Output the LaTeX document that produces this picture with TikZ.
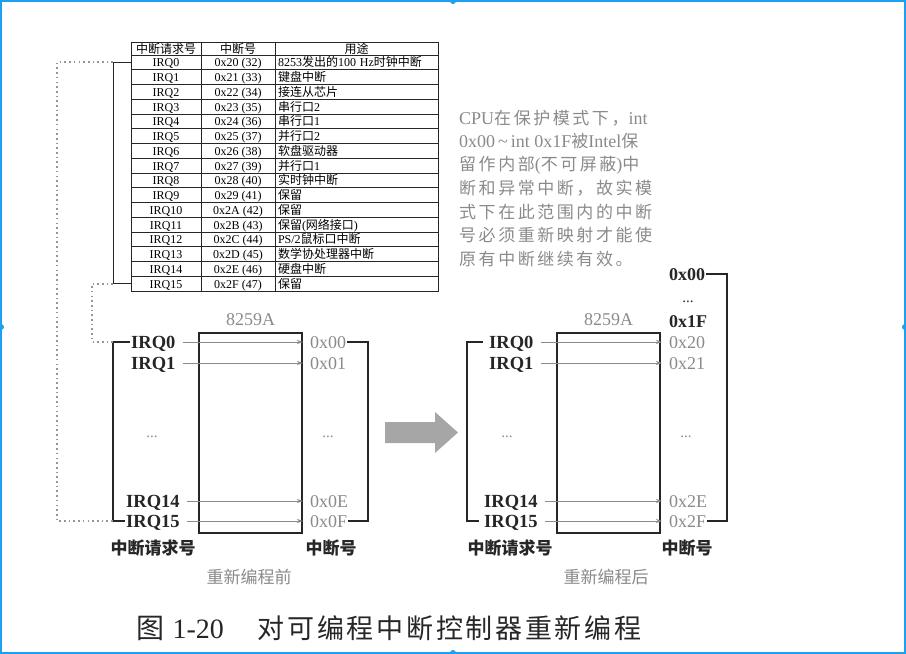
\documentclass[tikz,border=0pt]{standalone}
\usepackage{fontspec}
\setmainfont{Liberation Serif}
\newfontfamily\cjk{Noto Sans CJK SC}
\newfontfamily\cjkwide[LetterSpace=15]{Noto Sans CJK SC}
\newfontfamily\cjkcap[LetterSpace=10]{Noto Sans CJK SC}
\newcommand\zh[1]{{\cjk #1}}
\newcommand\zhw[1]{{\cjkwide\fontsize{17}{20}\selectfont #1}}
\usetikzlibrary{arrows.meta,positioning}
\definecolor{inkgray}{HTML}{8A8A8A}
\definecolor{linegray}{HTML}{262626}
\definecolor{framecol}{HTML}{1EA0F0}
\tikzstyle{cell}=[draw=linegray, line width=0.8pt, minimum height=14.75pt, inner sep=0pt, text height=10pt, text depth=1pt, font=\fontsize{12}{13}\selectfont]
\tikzstyle{irqcell}=[cell, minimum width=70pt]
\tikzstyle{veccell}=[cell, minimum width=74pt]
\tikzstyle{usecell}=[cell, text width=157pt, inner xsep=3pt, align=left]
\tikzstyle{headcell}=[minimum height=13pt, font=\cjk\fontsize{12}{13}\selectfont]
\tikzstyle{chip}=[draw=linegray, line width=1.3pt, minimum width=103pt, minimum height=200pt]
\tikzstyle{chiplabel}=[text=inkgray, font=\fontsize{18}{20}\selectfont, inner sep=1pt]
\tikzstyle{irq}=[anchor=west, inner sep=1pt, text height=12pt, text depth=0pt, text=linegray, font=\bfseries\fontsize{18.5}{20}\selectfont]
\tikzstyle{vec}=[anchor=west, inner sep=1pt, text height=12pt, text depth=0pt, text=inkgray, font=\fontsize{18}{20}\selectfont]
\tikzstyle{vecdark}=[vec, text=linegray, font=\bfseries\fontsize{18}{20}\selectfont]
\tikzstyle{ellip}=[text=inkgray, font=\fontsize{15}{16}\selectfont, inner sep=1pt]
\tikzstyle{zhlabel}=[text=linegray, font=\cjk\bfseries\fontsize{17}{20}\selectfont]
\tikzstyle{zhnote}=[text=inkgray, font=\cjk\fontsize{17}{20}\selectfont]
\tikzstyle{note}=[anchor=west, inner sep=0pt, text=inkgray, font=\fontsize{18}{20}\selectfont]
\tikzstyle{wire}=[draw=linegray, line width=1.3pt]
\tikzstyle{flow}=[draw=inkgray, line width=0.8pt, shorten <=6pt, shorten >=6pt, -{Stealth[length=6pt,width=4pt]}]
\tikzstyle{dots}=[draw=inkgray!90, line width=1.8pt, dash pattern=on 1.6pt off 3.1pt]

\begin{document}
\begin{tikzpicture}[x=1pt, y=-1pt]
\useasboundingbox (0,0) rectangle (906,654);
% Frame
    \draw[framecol, line width=2pt] (1,1) rectangle (905,653);
    \fill[framecol] (453,1) circle(3);
    \fill[framecol] (453,653) circle(3);
    \fill[framecol] (1,327) circle(3);
    \fill[framecol] (905,327) circle(3);
% Table
    \node[irqcell, headcell] (hirq) at (166,48.5) {中断请求号};
    \node[veccell, headcell] (hvec) at (238,48.5) {中断号};
    \node[usecell, headcell, align=center] (huse) at (356.5,48.5) {用途};
    \node[irqcell] (t0) at (166,62.375) {IRQ0};
    \node[veccell] (v0) at (238,62.375) {0x20 (32)};
    \node[usecell] (u0) at (356.5,62.375) {8253\zh{发出的}100 Hz\zh{时钟中断}};
    \node[irqcell] (t1) at (166,77.125) {IRQ1};
    \node[veccell] (v1) at (238,77.125) {0x21 (33)};
    \node[usecell] (u1) at (356.5,77.125) {\zh{键盘中断}};
    \node[irqcell] (t2) at (166,91.875) {IRQ2};
    \node[veccell] (v2) at (238,91.875) {0x22 (34)};
    \node[usecell] (u2) at (356.5,91.875) {\zh{接连从芯片}};
    \node[irqcell] (t3) at (166,106.625) {IRQ3};
    \node[veccell] (v3) at (238,106.625) {0x23 (35)};
    \node[usecell] (u3) at (356.5,106.625) {\zh{串行口}2};
    \node[irqcell] (t4) at (166,121.375) {IRQ4};
    \node[veccell] (v4) at (238,121.375) {0x24 (36)};
    \node[usecell] (u4) at (356.5,121.375) {\zh{串行口}1};
    \node[irqcell] (t5) at (166,136.125) {IRQ5};
    \node[veccell] (v5) at (238,136.125) {0x25 (37)};
    \node[usecell] (u5) at (356.5,136.125) {\zh{并行口}2};
    \node[irqcell] (t6) at (166,150.875) {IRQ6};
    \node[veccell] (v6) at (238,150.875) {0x26 (38)};
    \node[usecell] (u6) at (356.5,150.875) {\zh{软盘驱动器}};
    \node[irqcell] (t7) at (166,165.625) {IRQ7};
    \node[veccell] (v7) at (238,165.625) {0x27 (39)};
    \node[usecell] (u7) at (356.5,165.625) {\zh{并行口}1};
    \node[irqcell] (t8) at (166,180.375) {IRQ8};
    \node[veccell] (v8) at (238,180.375) {0x28 (40)};
    \node[usecell] (u8) at (356.5,180.375) {\zh{实时钟中断}};
    \node[irqcell] (t9) at (166,195.125) {IRQ9};
    \node[veccell] (v9) at (238,195.125) {0x29 (41)};
    \node[usecell] (u9) at (356.5,195.125) {\zh{保留}};
    \node[irqcell] (t10) at (166,209.875) {IRQ10};
    \node[veccell] (v10) at (238,209.875) {0x2A (42)};
    \node[usecell] (u10) at (356.5,209.875) {\zh{保留}};
    \node[irqcell] (t11) at (166,224.625) {IRQ11};
    \node[veccell] (v11) at (238,224.625) {0x2B (43)};
    \node[usecell] (u11) at (356.5,224.625) {\zh{保留}(\zh{网络接口})};
    \node[irqcell] (t12) at (166,239.375) {IRQ12};
    \node[veccell] (v12) at (238,239.375) {0x2C (44)};
    \node[usecell] (u12) at (356.5,239.375) {PS/2\zh{鼠标口中断}};
    \node[irqcell] (t13) at (166,254.125) {IRQ13};
    \node[veccell] (v13) at (238,254.125) {0x2D (45)};
    \node[usecell] (u13) at (356.5,254.125) {\zh{数学协处理器中断}};
    \node[irqcell] (t14) at (166,268.875) {IRQ14};
    \node[veccell] (v14) at (238,268.875) {0x2E (46)};
    \node[usecell] (u14) at (356.5,268.875) {\zh{硬盘中断}};
    \node[irqcell] (t15) at (166,283.625) {IRQ15};
    \node[veccell] (v15) at (238,283.625) {0x2F (47)};
    \node[usecell] (u15) at (356.5,283.625) {\zh{保留}};
% Note
    \node[note] (n1) at (459,118) {CPU\zhw{在保护模式下，}int};
    \node[note] (n2) at (459,141.5) {0x00\,\textasciitilde\,int 0x1F\zhw{被}Intel\zhw{保}};
    \node[note] (n3) at (459,165) {\zhw{留作内部}(\zhw{不可屏蔽})\zhw{中}};
    \node[note] (n4) at (459,188.5) {\zhw{断和异常中断，故实模}};
    \node[note] (n5) at (459,212) {\zhw{式下在此范围内的中断}};
    \node[note] (n6) at (459,235.5) {\zhw{号必须重新映射才能使}};
    \node[note] (n7) at (459,259) {\zhw{原有中断继续有效。}};
% Before remapping
    \node[chip] (lchip) at (250.5,433) {};
    \node[chiplabel, above=5pt of lchip] (lname) {8259A};
    \node[irq] (lirq0) at (130,342) {IRQ0};
    \node[irq] (lirq1) at (130,363) {IRQ1};
    \node[irq] (lirq14) at (125,501) {IRQ14};
    \node[irq] (lirq15) at (125,521) {IRQ15};
    \node[vec] (lhex0) at (309,342) {0x00};
    \node[vec] (lhex1) at (309,363) {0x01};
    \node[vec] (lhex14) at (309,501) {0x0E};
    \node[vec] (lhex15) at (309,521) {0x0F};
    \node[ellip] (ldots) at (152,437) {...};
    \node[ellip] (lvdots) at (328,437) {...};
    \node[zhlabel] (lreq) at (153,548) {中断请求号};
    \node[zhlabel] (lvec) at (331,548) {中断号};
    \node[zhnote] (lcap) at (249,577) {重新编程前};
    \coordinate (lbrk0) at (113,342);
    \coordinate (lbrk15) at (113,521);
    \coordinate (lout0) at (368,342);
    \draw[wire] (lirq0.west) -- (lbrk0) |- (lirq15.west);
    \draw[wire] (lhex0.east) -- (lout0) |- (lhex15.east);
    \draw[flow] (lirq0.east) -- (lhex0.west);
    \draw[flow] (lirq1.east) -- (lhex1.west);
    \draw[flow] (lirq14.east) -- (lhex14.west);
    \draw[flow] (lirq15.east) -- (lhex15.west);
% Links from the table
    \coordinate (tbrk0) at (113,62.375);
    \coordinate (tbrk15) at (113,283.625);
    \draw[wire, line width=1pt] (t0.west) -- (tbrk0) -- (tbrk15) -- (t15.west);
    \draw[dots] (tbrk0) -- ++(-56,0) |- (lbrk15);
    \draw[dots] (tbrk15) -- ++(-21,0) |- (lbrk0);
% Big arrow
    \fill[gray!70] (385,422) -- (435,422) -- (435,412) -- (458,432.5)
        -- (435,453) -- (435,443) -- (385,443) -- cycle;
% After remapping
    \node[chip] (rchip) at (608.5,433) {};
    \node[chiplabel, above=5pt of rchip] (rname) {8259A};
    \node[irq] (rirq0) at (488,342) {IRQ0};
    \node[irq] (rirq1) at (488,363) {IRQ1};
    \node[irq] (rirq14) at (483,501) {IRQ14};
    \node[irq] (rirq15) at (483,521) {IRQ15};
    \node[vecdark] (rtop) at (668,274) {0x00};
    \node[ellip, text=linegray] (rtdots) at (688,302) {...};
    \node[vecdark] (rlow) at (668,321) {0x1F};
    \node[vec] (rhex0) at (668,342) {0x20};
    \node[vec] (rhex1) at (668,363) {0x21};
    \node[vec] (rhex14) at (668,501) {0x2E};
    \node[vec] (rhex15) at (668,521) {0x2F};
    \node[ellip] (rdots) at (507,437) {...};
    \node[ellip] (rvdots) at (686,437) {...};
    \node[zhlabel] (rreq) at (510,548) {中断请求号};
    \node[zhlabel] (rvec) at (687,548) {中断号};
    \node[zhnote] (rcap) at (606,577) {重新编程后};
    \coordinate (rbrk0) at (467,342);
    \coordinate (rout0) at (727,274);
    \draw[wire, shorten <=5pt, shorten >=4pt] (rirq0.west) -- (rbrk0) |- (rirq15.west);
    \draw[wire] (rtop.east) -- (rout0) |- (rhex15.east);
    \draw[flow] (rirq0.east) -- (rhex0.west);
    \draw[flow] (rirq1.east) -- (rhex1.west);
    \draw[flow] (rirq14.east) -- (rhex14.west);
    \draw[flow] (rirq15.east) -- (rhex15.west);
% Caption
    \node[anchor=west, text=linegray, font=\fontsize{28}{30}\selectfont] (caption) at (133,628)
        {\zh{图}\hspace{8pt}1-20\hspace{34pt}{\cjkcap\fontsize{27}{30}\selectfont 对可编程中断控制器重新编程}};
\end{tikzpicture}
\end{document}
